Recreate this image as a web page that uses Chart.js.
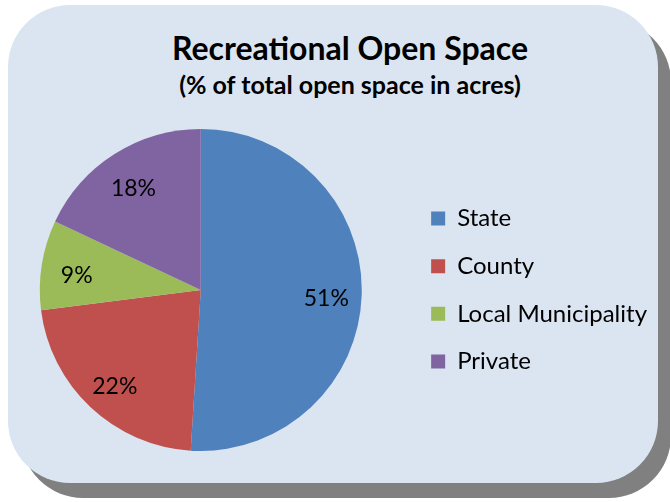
<!DOCTYPE html>
<html>
<head>
<meta charset="utf-8">
<script src="https://cdn.jsdelivr.net/npm/chart.js@4/dist/chart.umd.min.js"></script>
<style>
  html, body { margin: 0; padding: 0; width: 670px; height: 502px; overflow: hidden; background: #fff; }
  .card {
    position: absolute; left: 8px; top: 5px; width: 650px; height: 478px;
    background: #dbe5f1; border-radius: 62px;
    box-shadow: 13px 15px 0 #808080;
  }
  .title, .subtitle {
    position: absolute; left: 100px; width: 500px; text-align: center;
    font-family: Lato, sans-serif; font-weight: bold; color: #000; white-space: nowrap;
  }
  .title { top: 28px; font-size: 32px; line-height: 40px; }
  .subtitle { top: 70px; font-size: 25px; line-height: 29px; }
  #wrap { position: absolute; left: -6px; top: 0; height: 502px; }
</style>
</head>
<body>
<div class="card"></div>
<div class="title">Recreational Open Space</div>
<div class="subtitle">(% of total open space in acres)</div>
<div id="wrap"><canvas id="pie"></canvas></div>
<script>
const categories = ['State', 'County', 'Local Municipality', 'Private'];
const shares     = [51, 22, 9, 18];
const colors     = ['#4f81bd', '#c0504d', '#9bbb59', '#8064a2'];

const labelFont = { family: 'Lato, sans-serif', size: 24 };
const boxSize   = 14;
const rowPad    = 23.6;
const pieRight  = 413.4;   // chart area right edge inside the canvas

// size the canvas so the legend ends exactly at its right edge
const mctx = document.createElement('canvas').getContext('2d');
mctx.font = labelFont.size + 'px ' + labelFont.family;
const textW   = Math.max(...categories.map(c => mctx.measureText(c).width));
const legendW = rowPad + boxSize + labelFont.size / 2 + textW + 10;
document.getElementById('wrap').style.width = Math.ceil(pieRight + legendW) + 'px';

// percent labels inside each slice
const sliceLabels = {
  id: 'sliceLabels',
  afterDatasetsDraw(chart) {
    const ctx  = chart.ctx;
    const meta = chart.getDatasetMeta(0);
    ctx.save();
    ctx.font = '23px ' + labelFont.family;
    ctx.fillStyle = '#000';
    ctx.textAlign = 'center';
    ctx.textBaseline = 'middle';
    meta.data.forEach((arc, i) => {
      const p   = arc.getProps(['x', 'y', 'startAngle', 'endAngle', 'outerRadius'], true);
      const mid = (p.startAngle + p.endAngle) / 2;
      const r   = p.outerRadius * 0.78;
      ctx.fillText(shares[i] + '%', p.x + Math.cos(mid) * r, p.y + Math.sin(mid) * r + 5);
    });
    ctx.restore();
  }
};

new Chart(document.getElementById('pie'), {
  type: 'pie',
  data: {
    labels: categories,
    datasets: [{
      data: shares,
      backgroundColor: colors,
      borderWidth: 0,
    }]
  },
  options: {
    responsive: true,
    maintainAspectRatio: false,
    animation: false,
    layout: { padding: { top: 129, bottom: 51, left: 0, right: 0 } },
    plugins: {
      title: { display: false },
      tooltip: { enabled: false },
      legend: {
        position: 'right',
        labels: {
          boxWidth: boxSize,
          boxHeight: boxSize,
          padding: rowPad,
          color: '#000',
          font: labelFont,
        }
      }
    }
  },
  plugins: [sliceLabels]
});
</script>
</body>
</html>
